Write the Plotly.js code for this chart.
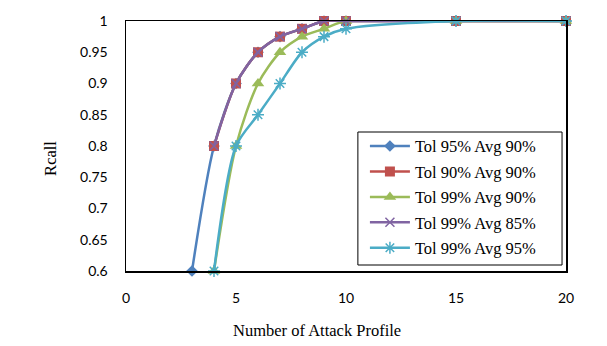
<!DOCTYPE html>
<html>
<head>
<meta charset="utf-8">
<script src="https://cdn.plot.ly/plotly-3.0.1.min.js"></script>
<style>
  html, body { margin: 0; padding: 0; background: #fff; }
  #plot1 { width: 607px; height: 346px; }
</style>
</head>
<body>
<div id="plot1"></div>
<script>
// values
var names = ['Tol 95% Avg 90%', 'Tol 90% Avg 90%', 'Tol 99% Avg 90%', 'Tol 99% Avg 85%', 'Tol 99% Avg 95%'];
var xTol95Avg90 = [3, 4, 5, 6, 7, 8, 9, 10, 15, 20];
var yTol95Avg90 = [0.6, 0.8, 0.9, 0.95, 0.975, 0.9875, 1, 1, 1, 1];
var xTol90Avg90 = [4, 5, 6, 7, 8, 9, 10, 15, 20];
var yTol90Avg90 = [0.8, 0.9, 0.95, 0.975, 0.9875, 1, 1, 1, 1];
var xTol99Avg90 = [4, 5, 6, 7, 8, 9, 10, 15, 20];
var yTol99Avg90 = [0.6, 0.8, 0.9, 0.95, 0.975, 0.9875, 1, 1, 1];
var xTol99Avg85 = [4, 5, 6, 7, 8, 9, 10, 15, 20];
var yTol99Avg85 = [0.8, 0.9, 0.95, 0.975, 0.9875, 1, 1, 1, 1];
var xTol99Avg95 = [4, 5, 6, 7, 8, 9, 10, 15, 20];
var yTol99Avg95 = [0.6, 0.8, 0.85, 0.9, 0.95, 0.975, 0.9875, 1, 1];
var xTicks = [0, 5, 10, 15, 20];
var yTicks = [0.6, 0.65, 0.7, 0.75, 0.8, 0.85, 0.9, 0.95, 1];

function series(x, y, name, color, symbol, size, mline){
  return {
    x: x, y: y, name: name, legendgroup: name,
    type: 'scatter', mode: 'lines+markers',
    line: {color: color, width: 2.5, shape: 'spline', smoothing: 0.8},
    marker: {color: color, symbol: symbol, size: size,
             line: {color: color, width: mline}},
    cliponaxis: false,
  };
}

var data = [
  series(xTol95Avg90, yTol95Avg90, names[0], '#4F81BD', 'diamond', 9, 0),
  series(xTol90Avg90, yTol90Avg90, names[1], '#C0504D', 'square', 10, 0),
  series(xTol99Avg90, yTol99Avg90, names[2], '#9BBB59', 'triangle-up', 11, 0),
  series(xTol99Avg85, yTol99Avg85, names[3], '#8064A2', 'x-thin-open', 9, 1.5),
  series(xTol99Avg95, yTol99Avg95, names[4], '#4BACC6', 'asterisk-open', 10, 1.5),
];

var serif = {family: 'Liberation Serif', size: 16.5, color: '#000'};

var layout = {
  width: 607, height: 346,
  margin: {l: 126, r: 41, t: 21, b: 75},
  paper_bgcolor: '#fff', plot_bgcolor: '#fff',
  showlegend: true,
  legend: {
    x: 0.543, y: 0.569, xanchor: 'left', yanchor: 'top',
    borderwidth: 0, bgcolor: 'rgba(0,0,0,0)',
    font: serif, tracegroupgap: 1, itemwidth: 40,
  },
  // the legend frame, drawn wider than plotly's own legend box
  shapes: [
    {type: 'rect', xref: 'paper', yref: 'paper', layer: 'above',
     x0: 0.527, x1: 0.991, y0: 0.024, y1: 0.556,
     fillcolor: '#fff', line: {color: '#000', width: 1}},
  ],
  xaxis: {
    range: [0, 20], tickvals: xTicks, ticktext: xTicks.map(String),
    showgrid: false, zeroline: false,
    showline: true, linecolor: '#000', linewidth: 1.5, mirror: true,
    ticks: '', ticklabelstandoff: 14,
    tickfont: {family: 'Lato', size: 14, color: '#000'},
    fixedrange: true,
  },
  yaxis: {
    range: [0.6, 1], tickvals: yTicks, ticktext: yTicks.map(String),
    showgrid: false, zeroline: false,
    showline: true, linecolor: '#000', linewidth: 1.5, mirror: true,
    ticks: '', ticklabelstandoff: 14,
    tickfont: {family: 'Lato', size: 14, color: '#000'},
    fixedrange: true,
  },
  annotations: [
    {text: 'Number of Attack Profile', xref: 'paper', yref: 'paper',
     x: 0.434, y: -0.236, xanchor: 'center', yanchor: 'middle',
     showarrow: false, font: serif},
    {text: 'Rcall', xref: 'paper', yref: 'paper', textangle: -90,
     x: -0.173, y: 0.452, xanchor: 'center', yanchor: 'middle',
     showarrow: false, font: serif},
  ],
};

Plotly.newPlot('plot1', data, layout, {displayModeBar: false, staticPlot: true});
</script>
</body>
</html>
